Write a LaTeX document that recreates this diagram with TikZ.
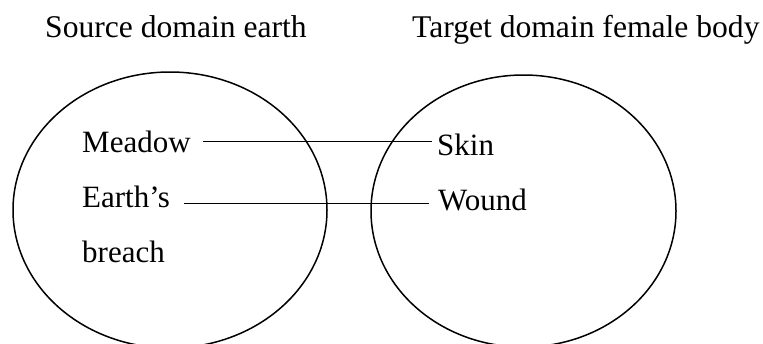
\documentclass[tikz,border=0pt]{standalone}
\usepackage{fontspec}
\setmainfont{Liberation Serif}
\begin{document}
\begin{tikzpicture}[x=1pt,y=-1pt,
  lbl/.style={inner sep=0pt,anchor=base west,font=\fontsize{31}{37}\selectfont},
  ttl/.style={lbl,font=\fontsize{31.6}{37}\selectfont},
  domainring/.style={line width=1.5pt},
  linkline/.style={line width=1pt}]
\useasboundingbox (0,0) rectangle (763,343);
\node[ttl] (src) at (45,37) {Source domain earth};
\node[ttl] (tgt) at (412,37) {Target domain female body};
\draw[domainring] (170,210) ellipse [x radius=157pt, y radius=138pt];
\draw[domainring] (523.5,211) ellipse [x radius=152.5pt, y radius=136pt];
\node[lbl] (meadow) at (82,152) {Meadow};
\node[lbl] (earths) at (82,207) {Earth’s};
\node[lbl] (breach) at (82,262) {breach};
\node[lbl] (skin) at (437,155) {Skin};
\node[lbl] (wound) at (438,210) {Wound};
\draw[linkline] ([xshift=12pt]meadow.east) -- ([xshift=-5pt]skin.west |- meadow.east);
\draw[linkline] ([xshift=14pt,yshift=4pt]earths.base east) -- ([xshift=-9pt,yshift=4pt]earths.base east -| wound.west);
\end{tikzpicture}
\end{document}
